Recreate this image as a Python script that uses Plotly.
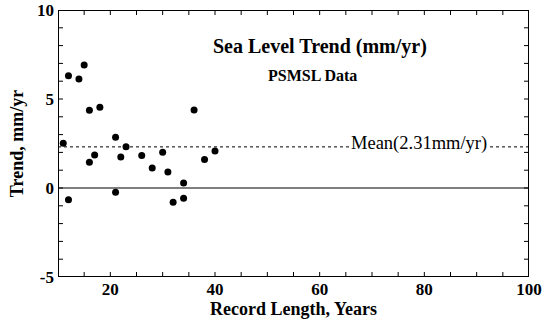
import plotly.graph_objects as go

record_length = [11, 12, 12, 14, 15, 16, 16, 17, 18, 21, 21, 22, 23, 26, 28, 30, 31, 32, 34, 34, 36, 38, 40]
trend = [2.51, 6.31, -0.66, 6.12, 6.91, 4.37, 1.44, 1.85, 4.53, 2.85, -0.24, 1.74, 2.32,
         1.83, 1.12, 2.01, 0.90, -0.80, -0.58, 0.28, 4.38, 1.60, 2.08]
mean_trend = 2.31
x_range = [10, 100]
y_range = [-5, 10]
# tick positions (every 5 years / every 1 mm/yr), labelled at the major values only
x_tickvals = [15, 20, 25, 30, 35, 40, 45, 50, 55, 60, 65, 70, 75, 80, 85, 90, 95, 100]
x_ticktext = ["", "20", "", "", "", "40", "", "", "", "60", "", "", "", "80", "", "", "", "100"]
y_tickvals = [-5, -4, -3, -2, -1, 0, 1, 2, 3, 4, 5, 6, 7, 8, 9, 10]
y_ticktext = ["-5", "", "", "", "", "0", "", "", "", "", "5", "", "", "", "", "10"]

font_family = "Liberation Serif"
W, H = 546, 321
M = dict(l=58, r=17, t=10, b=44)
plot_w = W - M["l"] - M["r"]
plot_h = H - M["t"] - M["b"]
tick_px = 5
dx = tick_px * (x_range[1] - x_range[0]) / plot_w
dy = tick_px * (y_range[1] - y_range[0]) / plot_h

fig = go.Figure()
fig.add_trace(go.Scatter(x=x_range, y=[0, 0], mode="lines",
                         line=dict(color="black", width=1), hoverinfo="skip", showlegend=False))
fig.add_trace(go.Scatter(x=x_range, y=[mean_trend, mean_trend], mode="lines",
                         line=dict(color="black", width=1, dash="dot"), hoverinfo="skip", showlegend=False))

# frame around the plot area
x0, x1 = x_range
y0, y1 = y_range
fig.add_trace(go.Scatter(x=[x0, x1, x1, x0, x0], y=[y0, y0, y1, y1, y0], mode="lines",
                         line=dict(color="black", width=2), hoverinfo="skip", showlegend=False))

# inward ticks on all four sides
tx, ty = [], []
for v in x_tickvals:
    if x0 < v < x1:
        tx += [v, v, None, v, v, None]
        ty += [y0, y0 + dy, None, y1, y1 - dy, None]
for v in y_tickvals:
    if y0 < v < y1:
        tx += [x0, x0 + dx, None, x1, x1 - dx, None]
        ty += [v, v, None, v, v, None]
fig.add_trace(go.Scatter(x=tx, y=ty, mode="lines", line=dict(color="black", width=1),
                         hoverinfo="skip", showlegend=False))

fig.add_trace(go.Scatter(x=record_length, y=trend, mode="markers",
                         marker=dict(color="black", size=7), showlegend=False))

axis_common = dict(showgrid=False, zeroline=False, showline=False, ticks="", automargin=False,
                   tickfont=dict(family=font_family, size=17, color="black", weight="bold"))

fig.update_layout(
    xaxis=dict(range=x_range, tickmode="array", tickvals=x_tickvals, ticktext=x_ticktext,
               title=dict(text="Record Length, Years", standoff=3,
                          font=dict(family=font_family, size=18, color="black", weight="bold")),
               **axis_common),
    yaxis=dict(range=y_range, tickmode="array", tickvals=y_tickvals, ticktext=y_ticktext,
               ticklabelstandoff=3,
               title=dict(text="Trend, mm/yr", standoff=8,
                          font=dict(family=font_family, size=18, color="black", weight="bold")),
               **axis_common),
)

fig.add_annotation(x=0.556, y=0.914, xref="paper", yref="paper", text="<b>Sea Level Trend (mm/yr)</b>",
                   showarrow=False, font=dict(family=font_family, size=20, color="black"))
fig.add_annotation(x=0.541, y=0.794, xref="paper", yref="paper", text="<b>PSMSL Data</b>",
                   showarrow=False, font=dict(family=font_family, size=16, color="black"))
fig.add_annotation(x=79, y=mean_trend, xref="x", yref="y", text="Mean(2.31mm/yr)",
                   showarrow=False, yshift=3, bgcolor="white", borderpad=0,
                   font=dict(family=font_family, size=18.5, color="black"))

fig.update_layout(width=W, height=H, margin=M,
                  plot_bgcolor="white", paper_bgcolor="white",
                  font=dict(family=font_family, color="black"))

fig.write_html("out.html", config={"displayModeBar": False},
               post_script="document.body.style.margin='0';")
